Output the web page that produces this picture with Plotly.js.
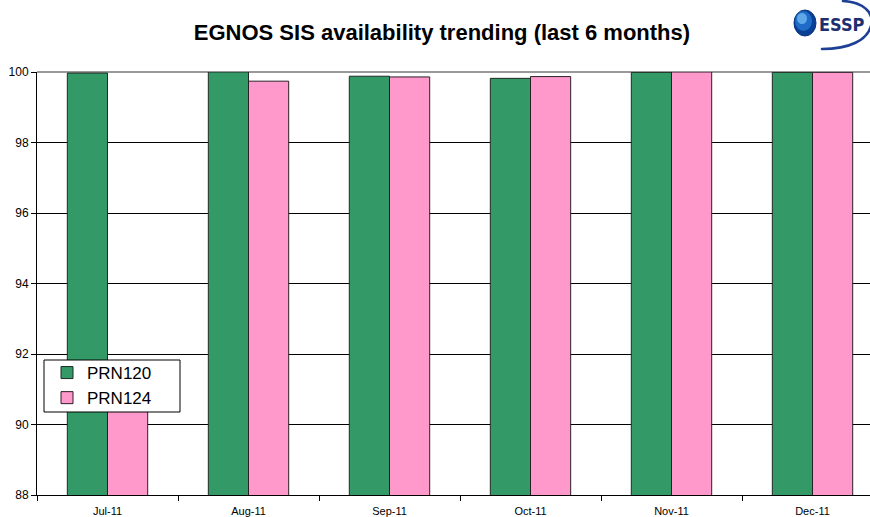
<!DOCTYPE html>
<html>
<head>
<meta charset="utf-8">
<script src="https://cdn.plot.ly/plotly-3.0.1.min.js"></script>
<style>
html,body{margin:0;padding:0;background:#fff;}
#wrap{position:relative;width:870px;height:517px;overflow:hidden;}
#chart{width:870px;height:517px;}
#swoosh{position:absolute;left:800px;top:0;width:70px;height:56px;pointer-events:none;}
</style>
</head>
<body>
<div id="wrap">
<div id="chart"></div>
<svg id="swoosh" xmlns="http://www.w3.org/2000/svg" width="70" height="56" viewBox="0 0 70 56">
  <path d="M 43,1 C 62,2 75,12 71,26 C 67,40 50,49 22,49" fill="none" stroke="#1d3f95" stroke-width="2.6" stroke-linecap="round"/>
</svg>
</div>
<script>
var months = ["Jul-11", "Aug-11", "Sep-11", "Oct-11", "Nov-11", "Dec-11"];
var prn120 = [99.97, 100.0, 99.88, 99.82, 99.99, 99.99];
var prn124 = [91.0, 99.74, 99.86, 99.87, 100.0, 99.99];
var yTicks = [88, 90, 92, 94, 96, 98, 100];

// pixel -> paper helpers for decorative items (plot area 37..870 x, 72..495 y)
var L = 37, R = 870, T = 72, B = 495;
function px(x) { return (x - L) / (R - L); }
function py(y) { return (B - y) / (B - T); }

var traces = [
  {type: "bar", name: "PRN120", x: months, y: prn120,
   marker: {color: "#339966", line: {color: "#1f2a24", width: 1}}},
  {type: "bar", name: "PRN124", x: months, y: prn124,
   marker: {color: "#FF99CC", line: {color: "#2a1f26", width: 1}}}
];

var layout = {
  width: 870, height: 517,
  margin: {l: L, r: 870 - R, t: T, b: 517 - B, pad: 0},
  paper_bgcolor: "#fff", plot_bgcolor: "#fff",
  font: {family: "Liberation Sans, Arial, sans-serif", color: "#000"},
  title: {text: "<b>EGNOS SIS availability trending (last 6 months)</b>",
          font: {size: 22, family: "Liberation Sans, Arial, sans-serif", color: "#000"},
          x: 0.508, xref: "container", xanchor: "center", y: 0.937, yref: "container", yanchor: "middle"},
  barmode: "group", bargap: 0.43, bargroupgap: 0,
  showlegend: true,
  legend: {x: px(47), y: py(355), xanchor: "left", yanchor: "top",
           bgcolor: "rgba(0,0,0,0)", borderwidth: 0,
           font: {size: 17, family: "Liberation Sans, Arial, sans-serif"},
           itemwidth: 30, tracegroupgap: 0},
  xaxis: {type: "category", range: [-0.5, 5.5 - 13 / 141], fixedrange: true,
          showline: true, linecolor: "#000", linewidth: 1,
          ticks: "outside", tickson: "boundaries", ticklen: 5, tickcolor: "#000",
          tickfont: {size: 11}, ticklabelstandoff: 6, showgrid: false, zeroline: false},
  yaxis: {range: [88, 100], tickvals: yTicks, ticktext: yTicks.map(String),
          showline: true, linecolor: "#000", linewidth: 1,
          ticks: "outside", ticklen: 5, tickcolor: "#000",
          tickfont: {size: 12}, showgrid: true, gridcolor: "#000", gridwidth: 1,
          zeroline: false},
  shapes: [
    {type: "line", xref: "paper", yref: "paper", x0: 0, x1: 1, y0: 1, y1: 1,
     line: {color: "#999", width: 2}, layer: "below"},
    {type: "rect", xref: "paper", yref: "paper",
     x0: px(44), x1: px(180), y0: py(412), y1: py(360),
     fillcolor: "#fff", line: {color: "#000", width: 1}, layer: "above"},
    // logo sphere
    {type: "circle", xref: "paper", yref: "paper",
     x0: px(794), x1: px(816), y0: py(36), y1: py(10),
     fillcolor: "#0a3f96", line: {color: "#0a3580", width: 1}},
    {type: "circle", xref: "paper", yref: "paper",
     x0: px(795), x1: px(812), y0: py(31), y1: py(11),
     fillcolor: "#1f6cc8", line: {width: 0}},
    {type: "circle", xref: "paper", yref: "paper",
     x0: px(797), x1: px(807), y0: py(24), y1: py(13),
     fillcolor: "#6fb8f0", opacity: 0.8, line: {width: 0}}
  ],
  annotations: [
    {text: "<b>ESSP</b>", xref: "paper", yref: "paper", x: px(841.5), y: py(25),
     xanchor: "center", yanchor: "middle", showarrow: false,
     font: {size: 18, family: "DejaVu Sans Condensed, DejaVu Sans, sans-serif", color: "#1c2f6e"}}
  ]
};

Plotly.newPlot("chart", traces, layout, {displayModeBar: false, staticPlot: true});
</script>
</body>
</html>
